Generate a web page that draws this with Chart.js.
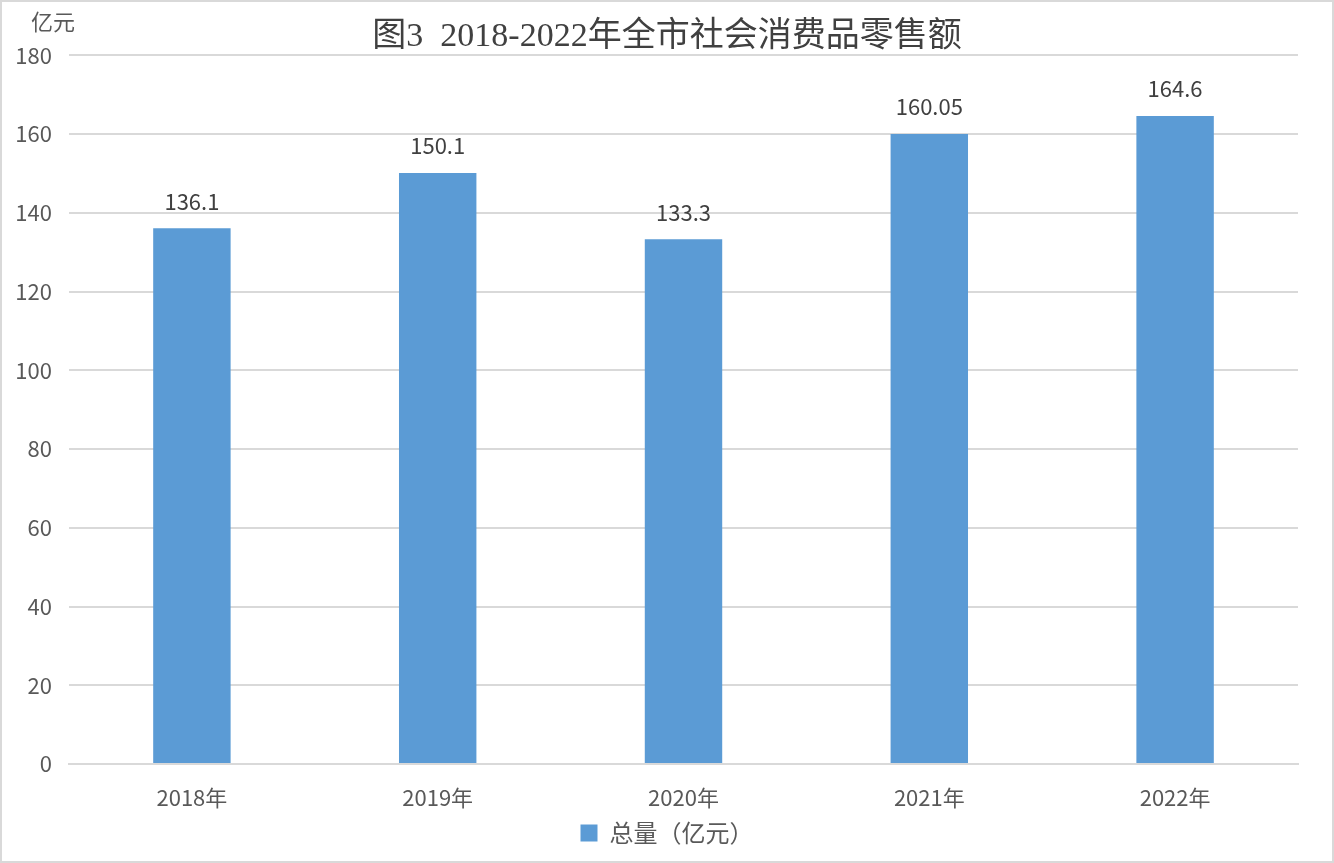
<!DOCTYPE html>
<html>
<head>
<meta charset="utf-8">
<script src="https://cdn.jsdelivr.net/npm/chart.js@4"></script>
<style>
  body { margin: 0; background: #fff; }
  #wrap { width: 1334px; height: 863px; position: relative; }
</style>
</head>
<body>
<div id="wrap"><canvas id="chart"></canvas></div>
<script>
const years = ['2018年', '2019年', '2020年', '2021年', '2022年'];
const totals = [136.1, 150.1, 133.3, 160.05, 164.6];
const seriesName = '总量（亿元）';
const unitLabel = '亿元';
const titleText = '图3  2018-2022年全市社会消费品零售额';

const cjk = '"Noto Sans CJK SC", "Noto Sans", sans-serif';

// frame, unit label and bar values
const extras = {
    id: 'extras',
    beforeDraw(chart) {
        const ctx = chart.ctx;
        ctx.save();
        ctx.fillStyle = '#fff';
        ctx.fillRect(0, 0, chart.width, chart.height);
        ctx.restore();
    },
    afterDraw(chart) {
        const ctx = chart.ctx;
        ctx.save();
        ctx.strokeStyle = '#d9d9d9';
        ctx.lineWidth = 2;
        ctx.strokeRect(1, 1, chart.width - 2, chart.height - 2);

        ctx.font = '22px ' + cjk;
        ctx.fillStyle = '#595959';
        ctx.textAlign = 'center';
        ctx.textBaseline = 'middle';
        ctx.fillText(unitLabel, 53, 22);

        ctx.fillStyle = '#404040';
        const meta = chart.getDatasetMeta(0);
        meta.data.forEach((bar, i) => {
            ctx.fillText(String(totals[i]), bar.x, bar.y - 27);
        });
        ctx.restore();
    }
};

new Chart(document.getElementById('chart'), {
    type: 'bar',
    data: {
        labels: years,
        datasets: [{
            label: seriesName,
            data: totals,
            backgroundColor: '#5b9bd5',
            barPercentage: 0.63,
            categoryPercentage: 0.5
        }]
    },
    options: {
        responsive: true,
        maintainAspectRatio: false,
        animation: false,
        layout: { padding: { left: 0, right: 0, top: 0, bottom: 8 } },
        plugins: {
            title: {
                display: true,
                text: titleText,
                color: '#404040',
                font: { family: '"Liberation Serif", "Noto Sans CJK SC", serif', size: 34, weight: 'normal', lineHeight: 1.1 },
                padding: { top: 18, bottom: 0 }
            },
            legend: {
                position: 'bottom',
                labels: {
                    color: '#595959',
                    font: { family: cjk, size: 24 },
                    boxWidth: 17,
                    boxHeight: 17,
                    padding: 10
                }
            },
            tooltip: { enabled: false }
        },
        scales: {
            x: {
                grid: { display: false, drawTicks: false },
                border: { color: '#d9d9d9', width: 2 },
                ticks: { color: '#595959', font: { family: cjk, size: 22 }, padding: 20 },
                afterFit(scale) { scale.height = 47; }
            },
            y: {
                min: 0,
                max: 180,
                ticks: { stepSize: 20, color: '#595959', font: { family: cjk, size: 22 }, padding: 17 },
                grid: { color: '#d9d9d9', lineWidth: 2, drawTicks: false },
                border: { display: false },
                afterFit(scale) { scale.width = 69; }
            },
            // empty right gutter so title and legend stay centred on the canvas
            gutter: {
                type: 'linear',
                position: 'right',
                ticks: { display: false },
                grid: { display: false, drawTicks: false },
                border: { display: false },
                afterFit(scale) { scale.width = 36; }
            }
        }
    },
    plugins: [extras]
});
</script>
</body>
</html>
